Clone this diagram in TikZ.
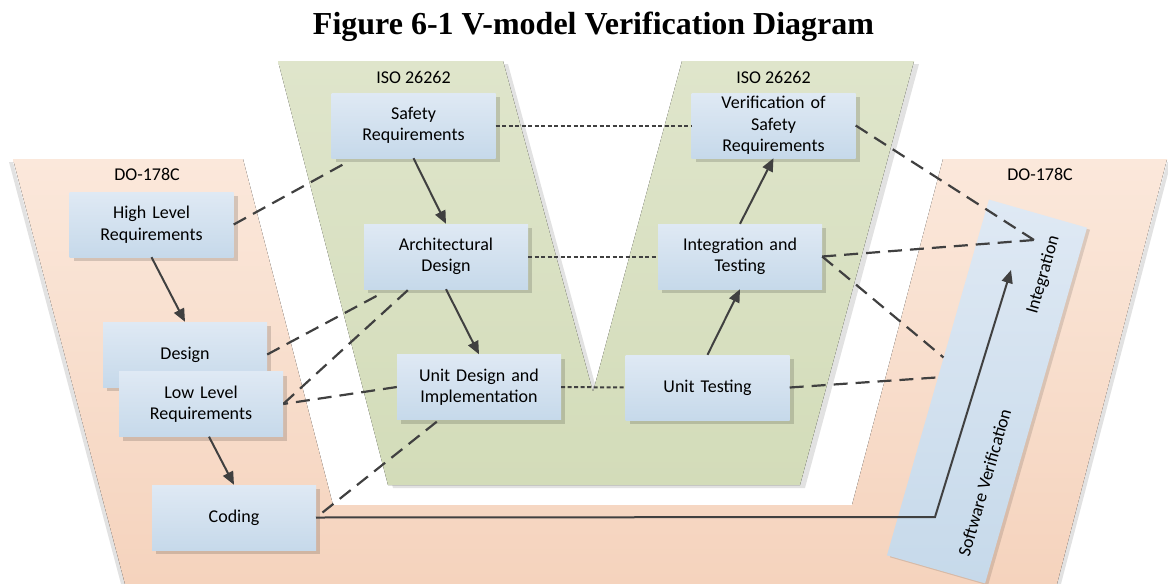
\documentclass[tikz,border=0pt]{standalone}
\usepackage{fontspec}
\setmainfont{Carlito}
\newfontfamily\titlefont{Liberation Serif}
\usetikzlibrary{arrows.meta,calc,shadows}
\definecolor{orangetop}{HTML}{FBE8DB}
\definecolor{orangebot}{HTML}{F5D3BD}
\definecolor{greentop}{HTML}{DFE5CB}
\definecolor{greenbot}{HTML}{D3DCB9}
\definecolor{boxtop}{HTML}{DFE9F4}
\definecolor{boxbot}{HTML}{C6D9EA}
\definecolor{linegray}{HTML}{404040}
\definecolor{shadegray}{HTML}{E2E2E2}

\begin{document}
\begin{tikzpicture}[x=1pt,y=-1pt]
    \tikzstyle{box} = [top color=boxtop, bottom color=boxbot, minimum width=164pt, minimum height=65pt, text width=150pt, inner sep=1pt, align=center, font=\fontsize{18}{21.5}\selectfont, drop shadow={shadow xshift=4pt, shadow yshift=-4pt, opacity=0.15, fill=black}]
    \tikzstyle{tag} = [font=\fontsize{18}{21.5}\selectfont]
    \tikzstyle{arrow} = [line width=2pt, draw=linegray, -{Triangle[length=13pt,width=11pt]}]
    \tikzstyle{link} = [line width=2.2pt, draw=linegray, dash pattern=on 14pt off 8pt]
    \tikzstyle{trace} = [line width=2pt, draw=linegray, dash pattern=on 4pt off 2.5pt]
    \useasboundingbox (0,0) rectangle (1168,584);

    % Title
    \node [font=\titlefont\bfseries\fontsize{32}{38}\selectfont, anchor=base] (Title) at (593.5,34) {Figure 6-1 V-model Verification Diagram};

    % DO-178C band
    \fill [shadegray] (9,162) -- (13,162) -- (125,584) -- (121,584) -- cycle;
    \fill [shadegray] (1167,162) -- (1171,162) -- (1061,584) -- (1057,584) -- cycle;
    \fill [top color=orangetop, bottom color=orangebot] (13,159) -- (243,159) -- (333,505) -- (852,505) -- (943,159) -- (1167,159) -- (1057,584) -- (125,584) -- cycle;
    \node [tag] (DoLeft) at (147,174) {DO-178C};
    \node [tag] (DoRight) at (1040,174) {DO-178C};

    % ISO 26262 V
    \fill [shadegray, shift={(5,3)}] (278,61) -- (503,61) -- (593,392) -- (682,61) -- (914,61) -- (800,485) -- (388,485) -- cycle;
    \fill [top color=greentop, bottom color=greenbot] (278,61) -- (503,61) -- (593,392) -- (682,61) -- (914,61) -- (800,485) -- (388,485) -- cycle;
    \node [tag] (IsoLeft) at (413.5,77) {ISO 26262};
    \node [tag] (IsoRight) at (773.5,77) {ISO 26262};

    % Left side boxes
    \node [box] (HighLevel) at (151.5,224.5) {High Level\\Requirements};
    \node [box] (Design) at (185,354.5) {Design};
    \node [box] (LowLevel) at (201,404) {Low Level\\Requirements};
    \node [box] (Coding) at (234,517.5) {Coding};

    % ISO boxes
    \node [box] (SafetyReq) at (413.5,125.5) {Safety\\Requirements};
    \node [box] (ArchDesign) at (446,256.5) {Architectural\\Design};
    \node [box] (UnitDesign) at (479,387) {Unit Design and\\Implementation};
    \node [box] (UnitTesting) at (707.5,387.5) {Unit Testing};
    \node [box] (IntTesting) at (740,256.5) {Integration and\\Testing};
    \node [box] (VerifSafety) at (773.5,125.5) {Verification of\\Safety\\Requirements};

    % Software verification bar
    \node [rotate=74, minimum width=370pt, minimum height=102pt, inner sep=0pt, top color=boxtop, bottom color=boxbot, drop shadow={shadow xshift=3pt, shadow yshift=-2pt, opacity=0.12, fill=black}] (SwVerif) at (987,391.5) {};
    \node [tag, rotate=74] (IntLabel) at (1043.5,275) {Integration};
    \node [tag, rotate=74] (SwLabel) at (984.5,482.5) {Software Verification};
    \coordinate (IntPoint) at (1034,240);
    \coordinate (SwBend) at (935,517);
    \coordinate (SwTip) at (1011,270);

    % Flow arrows
    \draw [arrow] (HighLevel.south) -- (Design.north);
    \draw [arrow] ([xshift=8pt]LowLevel.south) -- (Coding.north);
    \draw [arrow] (SafetyReq.south) -- (ArchDesign.north);
    \draw [arrow] (ArchDesign.south) -- (UnitDesign.north);
    \draw [arrow] (UnitTesting.north) -- (IntTesting.south);
    \draw [arrow] (IntTesting.north) -- (VerifSafety.south);
    \draw [arrow] (Coding.east) -- (SwBend) -- (SwTip);

    % Dotted pairs
    \draw [trace] (SafetyReq.east) -- (VerifSafety.west);
    \draw [trace] (ArchDesign.east) -- (IntTesting.west);
    \draw [trace] (UnitDesign.east) -- (UnitTesting.west);

    % Dashed traces
    \draw [link] (HighLevel.east) -- ($(SafetyReq.south west)+(14,5)$);
    \draw [link] (Design.east) -- ($(ArchDesign.south west)+(16,5)$);
    \draw [link] ($(ArchDesign.south west)+(44,1)$) -- (LowLevel.east);
    \draw [link] (UnitDesign.west) -- (LowLevel.east);
    \draw [link] ($(UnitDesign.south west)+(40,2)$) -- (Coding.east);
    \draw [link] (VerifSafety.east) -- (IntPoint);
    \draw [link] (IntTesting.east) -- (IntPoint);
    \draw [link] (IntTesting.east) -- ($(SwVerif.north west)!0.556!(SwVerif.north east)$);
    \draw [link] (UnitTesting.east) -- (SwVerif.north);
\end{tikzpicture}
\end{document}
